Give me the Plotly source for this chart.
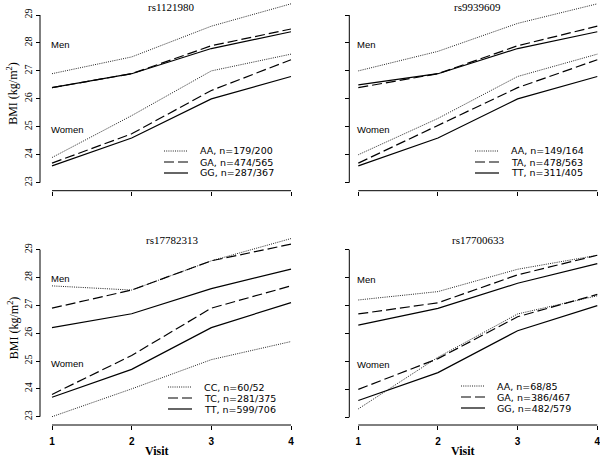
import plotly.graph_objects as go

# ---------------- data ----------------
visits = [1, 2, 3, 4]
bmi_ticks = [23, 24, 25, 26, 27, 28, 29]

snp_names = ["rs1121980", "rs9939609", "rs17782313", "rs17700633"]

p1_genotypes = ["AA", "GA", "GG"]
p1_counts = ["179/200", "474/565", "287/367"]
p1_men = [[26.9, 27.5, 28.6, 29.4], [26.4, 26.9, 27.9, 28.5], [26.4, 26.9, 27.8, 28.4]]
p1_women = [[23.9, 25.4, 27.0, 27.6], [23.7, 24.75, 26.3, 27.4], [23.6, 24.6, 26.0, 26.8]]

p2_genotypes = ["AA", "TA", "TT"]
p2_counts = ["149/164", "478/563", "311/405"]
p2_men = [[27.0, 27.7, 28.7, 29.4], [26.4, 26.9, 27.9, 28.6], [26.5, 26.9, 27.8, 28.4]]
p2_women = [[24.0, 25.3, 26.8, 27.6], [23.7, 25.05, 26.4, 27.4], [23.6, 24.6, 26.0, 26.8]]

p3_genotypes = ["CC", "TC", "TT"]
p3_counts = ["60/52", "281/375", "599/706"]
p3_men = [[27.7, 27.55, 28.6, 29.4], [26.9, 27.55, 28.6, 29.2], [26.2, 26.7, 27.6, 28.3]]
p3_women = [[23.0, 24.0, 25.05, 25.7], [23.8, 25.2, 26.9, 27.7], [23.7, 24.7, 26.2, 27.1]]

p4_genotypes = ["AA", "GA", "GG"]
p4_counts = ["68/85", "386/467", "482/579"]
p4_men = [[27.2, 27.5, 28.3, 28.8], [26.7, 27.1, 28.1, 28.8], [26.3, 26.9, 27.8, 28.5]]
p4_women = [[23.3, 25.15, 26.7, 27.35], [24.0, 25.1, 26.6, 27.4], [23.6, 24.6, 26.1, 27.0]]

group_labels = ["Men", "Women"]
group_label_y = [27.95, 24.9]

# ---------------- styling / layout ----------------
W, H = 600, 458
SERIF = "Liberation Serif"
SANS = "Liberation Sans"
LEG = "DejaVu Sans"

line_styles = [
    dict(color="#222222", width=1.0, dash="1px,1.2px"),
    dict(color="black", width=1.2, dash="10px,4px"),
    dict(color="black", width=1.2, dash="solid"),
]


def pxx(x):
    return x / W


def pxy(y):
    return 1 - y / H


panels = [
    dict(name=snp_names[0], gen=p1_genotypes, n=p1_counts, men=p1_men, women=p1_women,
         x1=52, x4=291, y29=15, y23=182.7, xline=190.7, yline=40, xl=41, xr=300, yt=0, yb=189,
         bottom=False, left=True, title_y=6.5, leg_text=199, leg_rows=[151, 162, 173]),
    dict(name=snp_names[1], gen=p2_genotypes, n=p2_counts, men=p2_men, women=p2_women,
         x1=358.3, x4=597.3, y29=15, y23=182.7, xline=190.7, yline=349.3, xl=350, xr=600, yt=0, yb=189,
         bottom=False, left=False, title_y=6.5, leg_text=510, leg_rows=[151, 162, 173]),
    dict(name=snp_names[2], gen=p3_genotypes, n=p3_counts, men=p3_men, women=p3_women,
         x1=52, x4=291, y29=249.7, y23=416.7, xline=425, yline=40, xl=41, xr=300, yt=232, yb=423,
         bottom=True, left=True, title_y=240, leg_text=203, leg_rows=[387, 398, 409]),
    dict(name=snp_names[3], gen=p4_genotypes, n=p4_counts, men=p4_men, women=p4_women,
         x1=358.3, x4=597.3, y29=249.7, y23=417.3, xline=425, yline=349.3, xl=350, xr=600, yt=232, yb=423,
         bottom=True, left=False, title_y=240, leg_text=496, leg_rows=[386, 397, 408]),
]

fig = go.Figure()
shapes = []
annotations = []
vmin, vmax = min(visits), max(visits)
tmin, tmax = min(bmi_ticks), max(bmi_ticks)

for i, p in enumerate(panels, start=1):
    xa = "x" if i == 1 else f"x{i}"
    ya = "y" if i == 1 else f"y{i}"
    sx = (p["x4"] - p["x1"]) / (vmax - vmin)
    sy = (p["y23"] - p["y29"]) / (tmax - tmin)
    xr = [vmin - (p["x1"] - p["xl"]) / sx, vmax + (p["xr"] - p["x4"]) / sx]
    yr = [tmin - (p["yb"] - p["y23"]) / sy, tmax + (p["y29"] - p["yt"]) / sy]

    for series in (p["men"], p["women"]):
        for k, vals in enumerate(series):
            fig.add_trace(go.Scatter(
                x=visits, y=vals, mode="lines", line=line_styles[k],
                xaxis=xa, yaxis=ya, showlegend=False,
                name=f"{p['gen'][k]}, n={p['n'][k]}", hoverinfo="x+y+name"))

    fig.layout[("xaxis" if i == 1 else f"xaxis{i}")] = dict(
        domain=[pxx(p["xl"]), pxx(p["xr"])], range=xr, anchor="free", position=pxy(p["xline"]),
        tickvals=visits, ticktext=[str(v) for v in visits], ticks="outside", ticklen=4, tickwidth=1,
        tickcolor="black", showline=False, showgrid=False, zeroline=False,
        showticklabels=p["bottom"], ticklabelstandoff=3, ticklabeloverflow="allow",
        tickfont=dict(family=SANS, size=10, color="black", weight="bold"))
    fig.layout[("yaxis" if i == 1 else f"yaxis{i}")] = dict(
        domain=[pxy(p["yb"]), pxy(p["yt"])], range=yr, anchor="free", position=pxx(p["yline"]),
        tickvals=bmi_ticks, ticktext=[str(v) for v in bmi_ticks], ticks="outside", ticklen=4, tickwidth=1,
        tickcolor="black", showline=False, showgrid=False, zeroline=False,
        showticklabels=p["left"], tickangle=-90, ticklabeloverflow="allow",
        tickfont=dict(family=SERIF, size=10, color="black"))

    # detached R-style axis lines spanning the tick range
    shapes.append(dict(type="line", xref=xa, yref="paper", x0=vmin, x1=vmax,
                       y0=pxy(p["xline"]), y1=pxy(p["xline"]), line=dict(color="black", width=1)))
    shapes.append(dict(type="line", xref="paper", yref=ya, x0=pxx(p["yline"]), x1=pxx(p["yline"]),
                       y0=tmin, y1=tmax, line=dict(color="black", width=1)))

    # panel title
    annotations.append(dict(text=p["name"], xref=xa, x=(vmin + vmax) / 2, yref="paper", y=pxy(p["title_y"]),
                            showarrow=False, xanchor="center", yanchor="middle",
                            font=dict(family=SERIF, size=11, color="black")))
    # Men / Women labels
    for lab, ly in zip(group_labels, group_label_y):
        annotations.append(dict(text=lab, xref=xa, x=vmin, yref=ya, y=ly, showarrow=False,
                                xanchor="left", yanchor="middle", xshift=-3,
                                font=dict(family=SANS, size=9.5, color="black")))
    # legend
    for k in range(3):
        ry = p["leg_rows"][k]
        shapes.append(dict(type="line", xref="paper", yref="paper",
                           x0=pxx(p["leg_text"] - 35), x1=pxx(p["leg_text"] - 11),
                           y0=pxy(ry), y1=pxy(ry), line=line_styles[k]))
        annotations.append(dict(text=f"{p['gen'][k]}, n={p['n'][k]}", xref="paper", x=pxx(p["leg_text"]),
                                yref="paper", y=pxy(ry), showarrow=False, xanchor="left", yanchor="middle",
                                borderpad=0,
                                font=dict(family=LEG, size=9.5, color="black")))
    # axis titles
    if p["left"]:
        annotations.append(dict(text="BMI (kg/m<sup>2</sup>)", xref="paper", x=pxx(13), yref="paper",
                                y=pxy((p["y29"] + p["y23"]) / 2 - 5), textangle=-90, showarrow=False,
                                xanchor="center", yanchor="middle",
                                font=dict(family=SERIF, size=12, color="black")))
    if p["bottom"]:
        annotations.append(dict(text="<b>Visit</b>", xref=xa, x=2.32, yref="paper", y=pxy(451),
                                showarrow=False, xanchor="center", yanchor="middle",
                                font=dict(family=SERIF, size=12, color="black")))

fig.update_layout(
    width=W, height=H, autosize=False,
    margin=dict(l=0, r=0, t=0, b=0),
    paper_bgcolor="white", plot_bgcolor="white",
    showlegend=False, shapes=shapes, annotations=annotations,
)

fig.write_html("out.html", config={"displayModeBar": False},
               post_script="document.body.style.margin='0px';document.body.style.padding='0px';")
